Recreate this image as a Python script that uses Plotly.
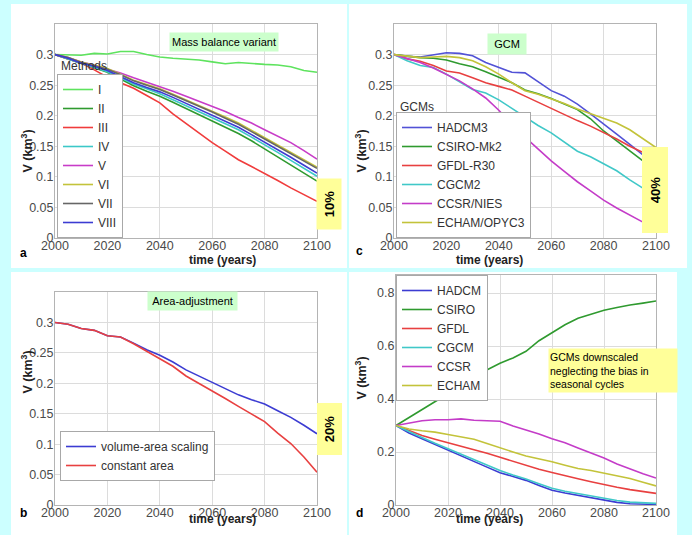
import plotly.graph_objects as go

W, H = 692, 535
FONT = "Arial, Liberation Sans, sans-serif"

years = list(range(2000, 2101, 5))

# ---------------- Panel a: mass balance variants ----------------
methods = ["I", "II", "III", "IV", "V", "VI", "VII", "VIII"]
a_I    = [0.300, 0.299, 0.299, 0.302, 0.301, 0.305, 0.305, 0.300, 0.296, 0.294, 0.293,
          0.291, 0.288, 0.285, 0.287, 0.285, 0.284, 0.283, 0.280, 0.274, 0.271]
a_II   = [0.300, 0.293, 0.285, 0.279, 0.271, 0.260, 0.249, 0.240, 0.232, 0.222, 0.212,
          0.202, 0.192, 0.182, 0.171, 0.159, 0.146, 0.133, 0.120, 0.106, 0.093]
a_III  = [0.300, 0.293, 0.286, 0.275, 0.263, 0.254, 0.245, 0.233, 0.221, 0.203, 0.187,
          0.172, 0.156, 0.142, 0.128, 0.117, 0.106, 0.094, 0.082, 0.071, 0.060]
a_IV   = [0.300, 0.293, 0.286, 0.280, 0.272, 0.262, 0.252, 0.244, 0.236, 0.226, 0.216,
          0.207, 0.197, 0.187, 0.177, 0.165, 0.153, 0.140, 0.127, 0.114, 0.101]
a_V    = [0.300, 0.295, 0.288, 0.283, 0.276, 0.270, 0.262, 0.255, 0.248, 0.240, 0.232,
          0.224, 0.215, 0.207, 0.197, 0.188, 0.177, 0.166, 0.156, 0.143, 0.129]
a_VI   = [0.300, 0.295, 0.288, 0.283, 0.277, 0.268, 0.258, 0.251, 0.244, 0.235, 0.226,
          0.217, 0.208, 0.198, 0.188, 0.176, 0.164, 0.152, 0.140, 0.128, 0.116]
a_VII  = [0.300, 0.295, 0.287, 0.282, 0.276, 0.267, 0.257, 0.250, 0.243, 0.234, 0.225,
          0.216, 0.206, 0.196, 0.186, 0.174, 0.162, 0.150, 0.138, 0.126, 0.114]
a_VIII = [0.300, 0.294, 0.286, 0.281, 0.274, 0.264, 0.254, 0.246, 0.239, 0.230, 0.220,
          0.211, 0.201, 0.191, 0.181, 0.169, 0.157, 0.145, 0.132, 0.119, 0.106]
a_values = [a_I, a_II, a_III, a_IV, a_V, a_VI, a_VII, a_VIII]
a_colors = ["#5ee35e", "#2f9a2f", "#f03c3c", "#3cc8c8", "#c83cc8", "#c3c33a", "#666666", "#3c3cd2"]

# ---------------- Panel c: GCMs ----------------
gcms = ["HADCM3", "CSIRO-Mk2", "GFDL-R30", "CGCM2", "CCSR/NIES", "ECHAM/OPYC3"]
c_HADCM3 = [0.300, 0.297, 0.296, 0.300, 0.303, 0.302, 0.298, 0.287, 0.279, 0.271, 0.270,
            0.256, 0.241, 0.232, 0.219, 0.203, 0.187, 0.170, 0.153, 0.136, 0.123]
c_CSIRO  = [0.300, 0.297, 0.295, 0.294, 0.291, 0.285, 0.280, 0.272, 0.263, 0.254, 0.242,
            0.236, 0.228, 0.219, 0.210, 0.195, 0.175, 0.159, 0.143, 0.126, 0.107]
c_GFDL   = [0.300, 0.293, 0.289, 0.282, 0.273, 0.270, 0.262, 0.254, 0.248, 0.242, 0.232,
            0.222, 0.211, 0.202, 0.192, 0.183, 0.173, 0.162, 0.150, 0.140, 0.130]
c_CGCM2  = [0.300, 0.290, 0.282, 0.279, 0.268, 0.255, 0.243, 0.237, 0.226, 0.212, 0.198,
            0.184, 0.172, 0.157, 0.142, 0.133, 0.122, 0.110, 0.095, 0.082, 0.068]
c_CCSR   = [0.300, 0.293, 0.287, 0.278, 0.267, 0.257, 0.244, 0.229, 0.209, 0.186, 0.165,
            0.145, 0.126, 0.109, 0.092, 0.077, 0.062, 0.049, 0.037, 0.026, 0.016]
c_ECHAM  = [0.300, 0.297, 0.295, 0.296, 0.297, 0.295, 0.290, 0.280, 0.268, 0.254, 0.241,
            0.235, 0.228, 0.220, 0.211, 0.203, 0.196, 0.188, 0.177, 0.163, 0.148]
c_values = [c_HADCM3, c_CSIRO, c_GFDL, c_CGCM2, c_CCSR, c_ECHAM]
c_colors = ["#5252d6", "#2f9a2f", "#e84040", "#40c8c8", "#c43cc8", "#c3c33a"]

# ---------------- Panel b: area adjustment ----------------
area_names = ["volume-area scaling", "constant area"]
b_scaling  = [0.300, 0.297, 0.290, 0.287, 0.278, 0.276, 0.266, 0.255, 0.246, 0.235, 0.222,
              0.212, 0.202, 0.191, 0.181, 0.173, 0.166, 0.155, 0.144, 0.131, 0.117]
b_constant = [0.300, 0.297, 0.290, 0.287, 0.278, 0.276, 0.265, 0.253, 0.241, 0.228, 0.212,
              0.200, 0.188, 0.175, 0.162, 0.150, 0.137, 0.118, 0.101, 0.079, 0.054]
b_values = [b_scaling, b_constant]
b_colors = ["#3c3cd2", "#e84040"]

# ---------------- Panel d: GCMs without bias correction ----------------
gcms_d = ["HADCM", "CSIRO", "GFDL", "CGCM", "CCSR", "ECHAM"]
d_HADCM = [0.300, 0.272, 0.250, 0.228, 0.207, 0.186, 0.165, 0.143, 0.122, 0.107, 0.093,
           0.074, 0.056, 0.045, 0.036, 0.027, 0.018, 0.010, 0.005, 0.003, 0.002]
d_CSIRO = [0.300, 0.330, 0.360, 0.390, 0.420, 0.450, 0.485, 0.510, 0.535, 0.555, 0.580,
           0.620, 0.650, 0.680, 0.705, 0.720, 0.735, 0.745, 0.755, 0.762, 0.770]
d_GFDL  = [0.300, 0.280, 0.262, 0.248, 0.235, 0.222, 0.208, 0.195, 0.180, 0.165, 0.150,
           0.135, 0.123, 0.110, 0.099, 0.088, 0.077, 0.067, 0.058, 0.050, 0.044]
d_CGCM  = [0.300, 0.276, 0.255, 0.233, 0.212, 0.190, 0.170, 0.150, 0.130, 0.113, 0.098,
           0.080, 0.063, 0.052, 0.043, 0.034, 0.025, 0.017, 0.011, 0.008, 0.006]
d_CCSR  = [0.300, 0.310, 0.318, 0.322, 0.322, 0.325, 0.320, 0.318, 0.316, 0.298, 0.283,
           0.268, 0.250, 0.235, 0.215, 0.197, 0.177, 0.155, 0.135, 0.118, 0.102]
d_ECHAM = [0.300, 0.287, 0.280, 0.275, 0.266, 0.258, 0.248, 0.232, 0.215, 0.200, 0.185,
           0.175, 0.163, 0.150, 0.138, 0.130, 0.120, 0.110, 0.100, 0.086, 0.072]
d_values = [d_HADCM, d_CSIRO, d_GFDL, d_CGCM, d_CCSR, d_ECHAM]
d_colors = ["#3c3cd2", "#2f9a2f", "#e84040", "#40c8c8", "#c43cc8", "#c3c33a"]

x_ticks = [2000, 2020, 2040, 2060, 2080, 2100]
y_ticks_small = [0, 0.05, 0.1, 0.15, 0.2, 0.25, 0.3]
y_labels_small = ["0", "0.05", "0.1", "0.15", "0.2", "0.25", "0.3"]
y_ticks_d = [0, 0.2, 0.4, 0.6, 0.8]
y_labels_d = ["0", "0.2", "0.4", "0.6", "0.8"]


def px_x(p):
    return p / W


def px_y(p):
    return 1 - p / H


fig = go.Figure()

panels = [
    ("x", "y", "legend", methods, a_values, a_colors),
    ("x2", "y2", "legend2", gcms, c_values, c_colors),
    ("x3", "y3", "legend3", area_names, b_values, b_colors),
    ("x4", "y4", "legend4", gcms_d, d_values, d_colors),
]
for xa, ya, lg, names, vals, cols in panels:
    for n, v, c in zip(names, vals, cols):
        fig.add_trace(go.Scatter(x=years, y=v, name=n, mode="lines",
                                 line=dict(color=c, width=1.6),
                                 xaxis=xa, yaxis=ya, legend=lg))

axis_common = dict(showgrid=True, gridcolor="#dcdcdc", gridwidth=1,
                   showline=True, linecolor="#b4b4b4", linewidth=1, mirror=True,
                   zeroline=False, ticks="", automargin=False,
                   tickfont=dict(family=FONT, size=12.5, color="#4a4a4a"))

def xaxis(left, right, anchor):
    return dict(axis_common, domain=[px_x(left), px_x(right)], range=[2000, 2100],
                tickvals=x_ticks, anchor=anchor, ticklabelstandoff=-4)

def yaxis(top, bottom, anchor, rng, tv, tl):
    return dict(axis_common, domain=[px_y(bottom), px_y(top)], range=rng,
                tickvals=tv, ticktext=tl, anchor=anchor, ticklabelstandoff=-2)

legend_common = dict(bgcolor="white", bordercolor="#a8a8a8", borderwidth=1,
                     font=dict(family=FONT, size=12, color="#333333"),
                     xref="paper", yref="paper", xanchor="left")

shapes = []
for x0, x1, y0, y1 in [(11, 347, 4, 268), (349, 687, 4, 268),
                       (11, 347, 272, 535), (349, 677, 272, 535)]:
    shapes.append(dict(type="rect", xref="paper", yref="paper", layer="below",
                       x0=px_x(x0), x1=px_x(x1), y0=px_y(y1), y1=px_y(y0),
                       fillcolor="white", line=dict(width=0)))

annotations = []

def ann(text, x, y, size=12, bold=False, angle=0, color="black", **kw):
    t = f"<b>{text}</b>" if bold else text
    d = dict(text=t, x=px_x(x), y=px_y(y), xref="paper", yref="paper",
             showarrow=False, textangle=angle,
             font=dict(family=FONT, size=size, color=color))
    d.update(kw)
    annotations.append(d)

# axis titles
for cx, cy in [(187, 260), (525, 260), (187, 528), (525, 528)]:
    ann("time (years)", cx, cy, size=12, bold=True, color="#222222")
for cx, cy in [(16, 128), (360, 128), (16, 396), (360, 402)]:
    ann("V (km<sup>3</sup>)", cx, cy, size=12.5, bold=True, angle=-90, color="#222222")
# panel letters
for letter, cx, cy in [("a", 18, 253), ("c", 359, 251), ("b", 18, 522), ("d", 359, 522)]:
    ann(letter, cx, cy, size=12, bold=True)
# green title boxes
ann("Mass balance variant", 169, 32, size=11, bgcolor="#ccffcc", width=106, height=16)
ann("GCM", 527, 33, size=11, bgcolor="#ccffcc", width=36, height=18)
ann("Area-adjustment", 147, 301, size=11, bgcolor="#ccffcc", width=87, height=16)
# yellow percentage boxes
ann("10%", 329, 178, size=13, bold=True, angle=-90, bgcolor="#ffff99", width=48, height=22)
ann("40%", 668, 190, size=13, bold=True, angle=-90, bgcolor="#ffff99", width=83, height=23)
ann("20%", 329, 456, size=13, bold=True, angle=-90, bgcolor="#ffff99", width=49, height=22)
# note in panel d
ann("GCMs downscaled<br>neglecting the bias in<br>seasonal cycles", 613, 370, size=10.5,
    align="left", bgcolor="#ffff99", width=126, height=41, xanchor="center", yanchor="middle")
# legend titles (drawn above the legend boxes, as in the original)
ann("Methods", 59, 75, size=12, color="#333333", xanchor="left", yanchor="bottom")
ann("GCMs", 398, 116, size=12, color="#333333", xanchor="left", yanchor="bottom")

fig.update_layout(
    width=W, height=H, margin=dict(l=0, r=0, t=0, b=0, autoexpand=False),
    paper_bgcolor="#ccffff", plot_bgcolor="white",
    font=dict(family=FONT),
    xaxis=xaxis(55, 317, "y"),
    yaxis=yaxis(24, 238, "x", [0, 0.35], y_ticks_small, y_labels_small),
    xaxis2=xaxis(394, 656, "y2"),
    yaxis2=yaxis(24, 238, "x2", [0, 0.35], y_ticks_small, y_labels_small),
    xaxis3=xaxis(55, 317, "y3"),
    yaxis3=yaxis(292, 505, "x3", [0, 0.35], y_ticks_small, y_labels_small),
    xaxis4=xaxis(396, 656, "y4"),
    yaxis4=yaxis(275, 505, "x4", [0, 0.868], y_ticks_d, y_labels_d),
    legend=dict(legend_common, x=px_x(57), y=px_y(238), yanchor="bottom"),
    legend2=dict(legend_common, x=px_x(396), y=px_y(238), yanchor="bottom"),
    legend3=dict(legend_common, x=px_x(60), y=px_y(431), yanchor="top"),
    legend4=dict(legend_common, x=px_x(396), y=px_y(275), yanchor="top"),
    shapes=shapes, annotations=annotations,
)

fig.write_html("out.html", config={"displayModeBar": False},
               post_script="document.body.style.margin='0';")
